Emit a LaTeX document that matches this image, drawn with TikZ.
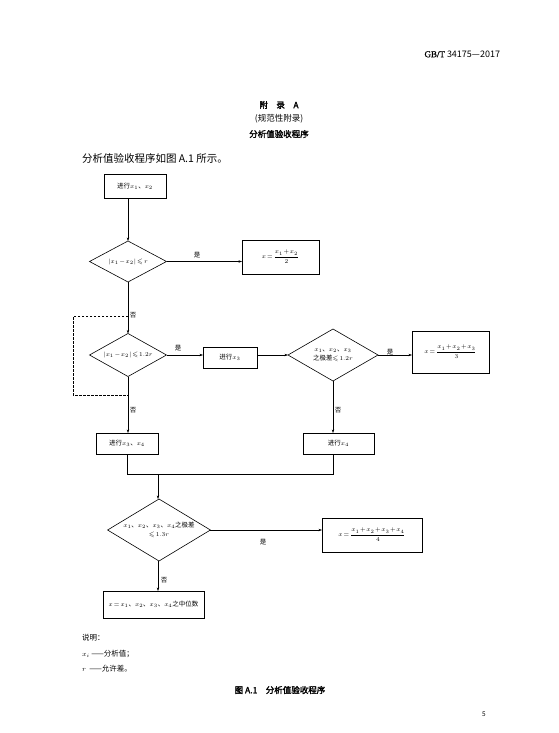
\documentclass[tikz,border=0pt]{standalone}
\usepackage{amsmath,amssymb}
\usepackage{fontspec}
\setmainfont{Noto Sans CJK SC}
\newfontfamily\cjkb{Noto Sans CJK SC}[FakeBold=2]
\newfontfamily\serifb{Liberation Serif}[FakeBold=1]
\usetikzlibrary{shapes.geometric,arrows.meta}
\medmuskip=1.5mu\relax
\thickmuskip=2.5mu\relax
\begin{document}
\begin{tikzpicture}[x=1pt,y=-1pt,
  every node/.style={inner sep=0pt,outer sep=0pt},
  fc/.style={font=\fontsize{6.5}{8}\selectfont},
  stepbox/.style={draw,line width=0.8pt,fc,align=center},
  decide/.style={draw,diamond,line width=0.6pt,fc,align=center,aspect=2},
  conn/.style={line width=0.5pt},
  arr/.style={conn,-{Stealth[length=3.5pt,width=2.4pt]}},
  lab/.style={font=\fontsize{6.5}{8}\selectfont},
  txt/.style={font=\fontsize{10.5}{12}\selectfont,anchor=west},
  leg/.style={font=\fontsize{7.5}{9}\selectfont,anchor=west}
]
\useasboundingbox (0,0) rectangle (559,733);
% header and titles
\node (hdr) [anchor=east,font=\fontsize{9}{11}\selectfont] at (500,54) {{\serifb GB/T} 34175—2017};
\node (t1) [font=\cjkb\fontsize{8.5}{10}\selectfont] at (279,105) {附\quad 录\quad A};
\node (t2) [font=\fontsize{8.5}{10}\selectfont] at (279,119) {(规范性附录)};
\node (t3) [font=\cjkb\fontsize{8.5}{10}\selectfont] at (279,134) {分析值验收程序};
\node (intro) [txt] at (82,158) {分析值验收程序如图 A.1 所示。};
% flowchart nodes
\node (b1) [stepbox,minimum width=62pt,minimum height=24pt] at (135,186) {进行$x_1$、$x_2$};
\node (d1) [decide,minimum width=77pt,minimum height=41pt] at (128,261.5) {$|x_1-x_2|\leqslant r$};
\node (b2) [stepbox,minimum width=77pt,minimum height=34pt] at (280.5,257) {$x=\dfrac{x_1+x_2}{2}$};
\node (d2) [decide,minimum width=77pt,minimum height=43pt] at (128,355) {$|x_1-x_2|\leqslant1.2r$};
\node (b3) [stepbox,minimum width=54pt,minimum height=21pt] at (230,357.5) {进行$x_3$};
\node (d3) [decide,minimum width=90pt,minimum height=52pt] at (333,355) {$x_1$、$x_2$、$x_3$\\[1pt]之极差$\leqslant1.2r$};
\node (b4) [stepbox,minimum width=77pt,minimum height=42pt] at (450.5,352) {$x=\dfrac{x_1+x_2+x_3}{3}$};
\node (b5) [stepbox,minimum width=62pt,minimum height=21pt] at (127,443.5) {进行$x_3$、$x_4$};
\node (b6) [stepbox,minimum width=71pt,minimum height=21pt] at (338.5,443.5) {进行$x_4$};
\node (d4) [decide,minimum width=94pt,minimum height=62pt] at (159,530) {$x_1$、$x_2$、$x_3$、$x_4$之极差\\[1pt]$\leqslant1.3r$};
\node (b7) [stepbox,minimum width=100pt,minimum height=34pt] at (372,535) {$x=\dfrac{x_1+x_2+x_3+x_4}{4}$};
\node (b8) [stepbox,minimum width=101pt,minimum height=27pt] at (153.5,604.5) {$x=x_1$、$x_2$、$x_3$、$x_4$之中位数};
% connectors
\draw[arr] (d1.north |- b1.south) -- (d1.north);
\draw[arr] (d1.east) -- (d1.east -| b2.west);
\node (y1) [lab] at (197,255) {是};
\draw[arr] (d1.south) -- (d2.north);
\node (n1) [lab] at (133,315) {否};
\coordinate (lpA) at (128,316);
\coordinate (lpB) at (73,316);
\coordinate (lpC) at (73,395);
\coordinate (lpD) at (128,395);
\draw[conn,dashed,dash pattern=on 2.5pt off 1.5pt] (lpA) -- (lpB) -- (lpC) -- (lpD);
\draw[arr] (d2.east) -- (d2.east -| b3.west);
\node (y2) [lab] at (178,348) {是};
\draw[arr] (d2.east -| b3.east) -- (d3.west);
\draw[arr] (d3.east) -- (d3.east -| b4.west);
\node (y3) [lab] at (390,352) {是};
\draw[arr] (d2.south) -- (d2.south |- b5.north);
\node (n2) [lab] at (133,410) {否};
\draw[arr] (d3.south) -- (d3.south |- b6.north);
\node (n3) [lab] at (338,410) {否};
\coordinate (jA) at (127,474);
\coordinate (jB) at (333,474);
\coordinate (jM) at (158,474);
\draw[conn] (b5.south) -- (jA) -- (jB) -- (jB |- b6.south);
\draw[arr] (jM) -- (jM |- d4.north);
\draw[arr] (d4.east) -- (d4.east -| b7.west);
\node (y4) [lab] at (263,542) {是};
\draw[arr] (d4.south -| jM) -- (jM |- b8.north);
\node (n4) [lab] at (164,580) {否};
% legend
\node (l0) [leg] at (82,638) {说明：};
\node (l1) [leg] at (82,654) {$x_i$ ——分析值；};
\node (l2) [leg] at (82,669) {$r$\ \ ——允许差。};
\node (cap) [font=\cjkb\fontsize{8.5}{10}\selectfont] at (280,690) {图 A.1\quad 分析值验收程序};
\node (pg) [font=\fontsize{6.5}{8}\selectfont] at (484,714) {5};
\end{tikzpicture}
\end{document}
